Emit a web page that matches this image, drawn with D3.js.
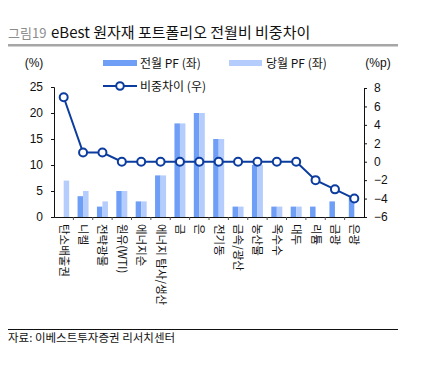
<!DOCTYPE html>
<html><head><meta charset="utf-8">
<script src="https://cdn.jsdelivr.net/npm/d3@7"></script>
<style>
body{margin:0;background:#fff;}
text{font-family:"Liberation Sans Narrow","Liberation Sans","Noto Sans CJK KR",sans-serif;}
.kr{font-family:"Noto Sans CJK KR","Liberation Sans",sans-serif;}
</style></head>
<body>
<svg id="c" width="435" height="379"></svg>
<script>
const categories = ["탄소배출권","니켈","전략광물","원유(WTI)","에너지순","에너지 탐사/생산","금","은","전기동","금속/광산","농산물","옥수수","대두","리튬","금광","은광"];
const prevPF = [0,4,2,5,3,8,18,20,15,2,10,2,2,2,3,4];
const currPF = [7,5,3,5,3,8,18,20,15,2,10,2,2,0,0,0];
const diff   = [7,1,1,0,0,0,0,0,0,0,0,0,0,-2,-3,-4];
const leftTicks = [0,5,10,15,20,25];
const rightTicks = [-6,-4,-2,0,2,4,6,8];

const svg = d3.select("#c");
const L=54, R=364, T=87, B=217;
const x = d3.scaleBand().domain(categories).range([L,R]);
const yL = d3.scaleLinear().domain([0,25]).range([B,T]);
const yR = d3.scaleLinear().domain([-6,8]).range([B,T+1]);
const bw = 5.5;

// title
svg.append("text").attr("class","kr").attr("x",8).attr("y",38).attr("font-size",13).attr("fill","#8c8c8c").text("그림19");
svg.append("text").attr("class","kr").attr("x",51).attr("y",38).attr("font-size",15).attr("fill","#111").text("eBest 원자재 포트폴리오 전월비 비중차이");
svg.append("rect").attr("x",8).attr("y",44).attr("width",390).attr("height",2.5).attr("fill","#a6a6a6");

// unit labels
svg.append("text").attr("x",34).attr("y",67).attr("text-anchor","middle").attr("font-size",12).attr("fill","#111").text("(%)");
svg.append("text").attr("x",378).attr("y",67).attr("text-anchor","middle").attr("font-size",12).attr("fill","#111").text("(%p)");

// legend
svg.append("rect").attr("x",103).attr("y",60).attr("width",34).attr("height",6).attr("fill","#6e9ef5");
svg.append("text").attr("class","kr").attr("x",140).attr("y",67.5).attr("font-size",12).attr("fill","#111").text("전월 PF (좌)");
svg.append("rect").attr("x",229).attr("y",60).attr("width",33).attr("height",6).attr("fill","#b5cdfc");
svg.append("text").attr("class","kr").attr("x",266).attr("y",67.5).attr("font-size",12).attr("fill","#111").text("당월 PF (좌)");
svg.append("line").attr("x1",103).attr("x2",137).attr("y1",86).attr("y2",86).attr("stroke","#0b3c9e").attr("stroke-width",2);
svg.append("circle").attr("cx",120).attr("cy",86).attr("r",3.8).attr("fill","#fff").attr("stroke","#0b3c9e").attr("stroke-width",2);
svg.append("text").attr("class","kr").attr("x",140).attr("y",90.5).attr("font-size",12).attr("fill","#111").text("비중차이 (우)");

// bars
const cx = c => x(c) + x.bandwidth()/2;
svg.append("g").selectAll("rect").data(categories).join("rect")
  .attr("x",(c)=>cx(c)-bw).attr("width",bw)
  .attr("y",(c,i)=>yL(prevPF[i])).attr("height",(c,i)=>B-yL(prevPF[i]))
  .attr("fill","#6e9ef5");
svg.append("g").selectAll("rect").data(categories).join("rect")
  .attr("x",(c)=>cx(c)).attr("width",bw)
  .attr("y",(c,i)=>yL(currPF[i])).attr("height",(c,i)=>B-yL(currPF[i]))
  .attr("fill","#b5cdfc");

// axes
const axL = svg.append("g").attr("transform",`translate(${L},0)`).call(d3.axisLeft(yL).tickValues(leftTicks).tickSize(3).tickPadding(8));
const axR = svg.append("g").attr("transform",`translate(${R},0)`).call(d3.axisRight(yR).tickValues(rightTicks).tickSize(3).tickPadding(7).tickFormat(d=>d<0?"\u2212"+Math.abs(d):d));
const axB = svg.append("g").attr("transform",`translate(0,${B})`).call(d3.axisBottom(x).tickValues([]).tickSizeOuter(0));
[axL,axR].forEach(a=>{a.selectAll("text").attr("font-size",12).attr("fill","#111");a.selectAll("line,path").attr("stroke","#111");});
axB.select("path").attr("stroke","#111");
// category boundary ticks
svg.append("g").selectAll("line").data(categories.slice(1)).join("line")
  .attr("x1",c=>x(c)).attr("x2",c=>x(c)).attr("y1",B).attr("y2",B+3).attr("stroke","#555");

// category labels
svg.append("g").selectAll("text").data(categories).join("text").attr("class","kr")
  .attr("transform",c=>`translate(${cx(c)},224) rotate(90)`)
  .attr("dy","0.35em").attr("font-size",11.5).attr("fill","#111").text(c=>c);

// line
const line = d3.line().x((d,i)=>cx(categories[i])).y(d=>yR(d));
svg.append("path").datum(diff).attr("d",line).attr("fill","none").attr("stroke","#0b3c9e").attr("stroke-width",2);
svg.append("g").selectAll("circle").data(diff).join("circle")
  .attr("cx",(d,i)=>cx(categories[i])).attr("cy",d=>yR(d)).attr("r",4)
  .attr("fill","#fff").attr("stroke","#0b3c9e").attr("stroke-width",2);

// footer
svg.append("line").attr("x1",8).attr("x2",398).attr("y1",329.5).attr("y2",329.5).attr("stroke","#111").attr("stroke-width",1);
svg.append("text").attr("class","kr").attr("x",8).attr("y",342).attr("font-size",11.5).attr("fill","#111").text("자료: 이베스트투자증권 리서치센터");
</script>
</body></html>
